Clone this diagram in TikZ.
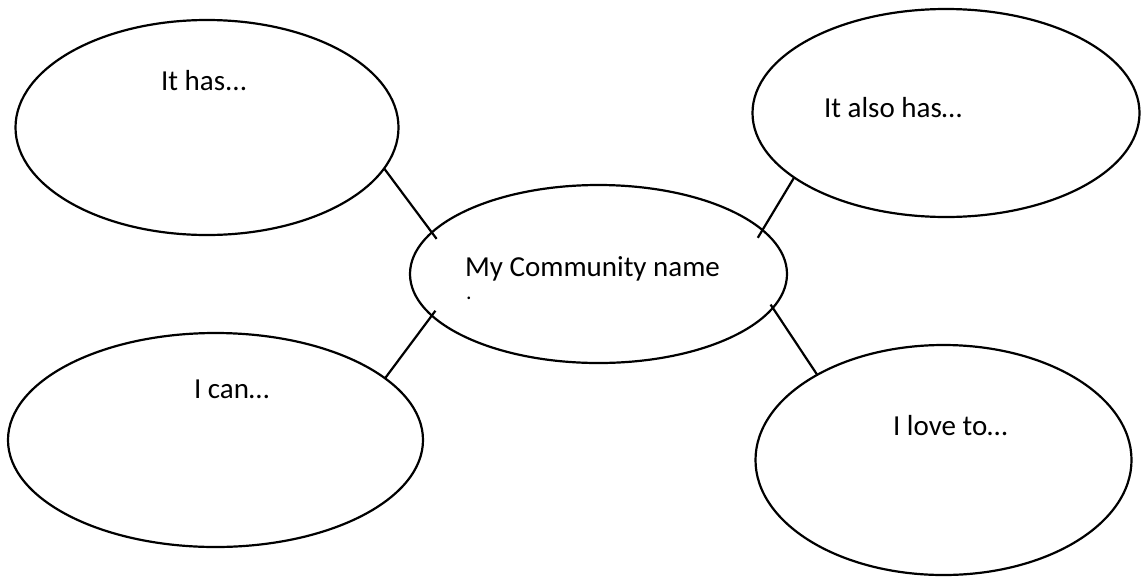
\documentclass[tikz,border=0pt]{standalone}
\usepackage{fontspec}
\setmainfont{Carlito}
\usepackage{tikz}
\usetikzlibrary{shapes.geometric}

\begin{document}
\begin{tikzpicture}[x=1pt,y=-1pt,line width=2.2pt]
        \tikzset{bubble/.style={ellipse, draw=black!100, fill=black!00, inner sep=0pt, outer sep=0pt},
                 lbl/.style={anchor=base west, inner sep=0pt, font=\fontsize{29}{33}\selectfont}}

	\useasboundingbox (0,0) rectangle (1142,576);

	%---NODES---
        \node[bubble, minimum width=383pt, minimum height=215pt] (has) at (207,127.5) {};
        \node[bubble, minimum width=387pt, minimum height=208pt] (alsohas) at (946,113) {};
        \node[bubble, minimum width=377pt, minimum height=178pt] (name) at (598.5,274) {};
        \node[bubble, minimum width=415pt, minimum height=214pt] (can) at (215.5,440) {};
        \node[bubble, minimum width=376pt, minimum height=230pt] (love) at (943.5,460) {};

	%---EDGES---
        \draw[-, shorten >=-8pt]   (has.-13.7) -- (name.166) ;
        \draw[-, shorten >=-9pt]   (alsohas.-157.7) -- (name.15) ;
        \draw[-, shorten >=-6pt]   (can.20.4) -- (name.-166.7) ;
        \draw[-, shorten <=-4pt]   (name.-11.5) -- (love.146.2) ;

	%---LABELS---
        \node[lbl] (hastext) at (160,90) {It has...} ;
        \node[lbl] (alsohastext) at (823,117) {It also has…} ;
        \node[lbl] (nametext) at (464,276) {My Community name} ;
        \node[lbl, font=\fontsize{22}{24}\selectfont] (namedot) at (465,299) {.} ;
        \node[lbl] (cantext) at (193,398) {I can…} ;
        \node[lbl] (lovetext) at (892,435) {I love to…} ;

\end{tikzpicture}
\end{document}
